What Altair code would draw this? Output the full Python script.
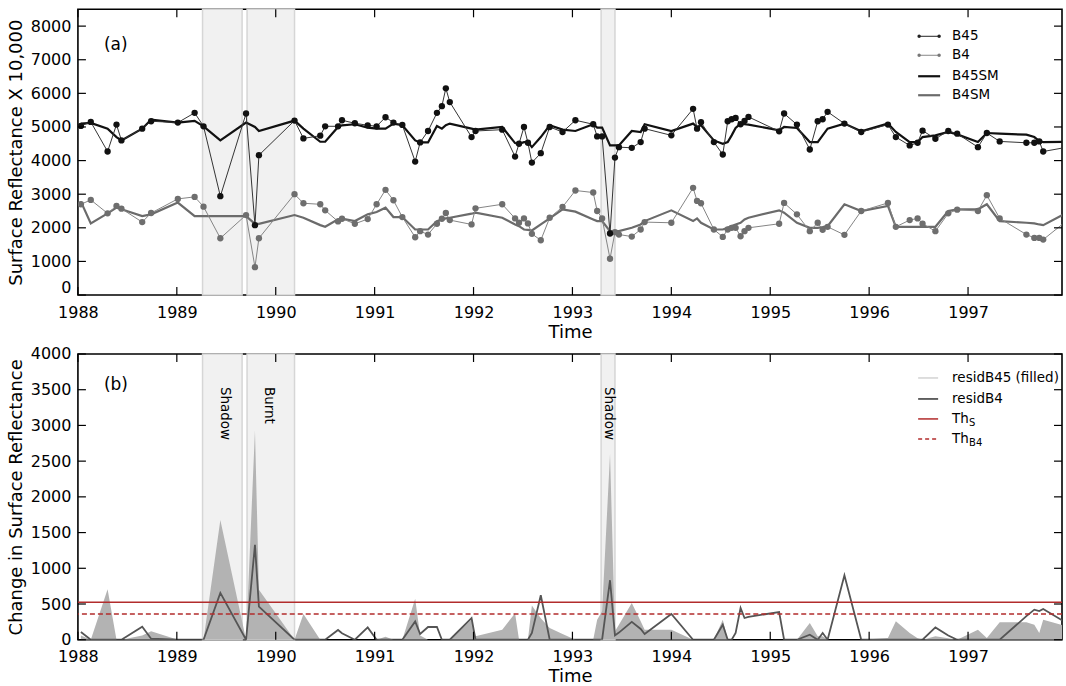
import altair as alt
import pandas as pd

# ---------------- data ----------------
dates = [
    1988.03, 1988.13, 1988.30, 1988.39, 1988.44, 1988.65, 1988.74, 1989.01, 1989.18, 1989.27,
    1989.44, 1989.70, 1989.79, 1989.83, 1990.19, 1990.28, 1990.45, 1990.50, 1990.63, 1990.67,
    1990.80, 1990.93, 1991.02, 1991.11, 1991.19, 1991.28, 1991.41, 1991.46, 1991.54, 1991.63,
    1991.68, 1991.72, 1991.76, 1991.98, 1992.02, 1992.29, 1992.42, 1992.46, 1992.51, 1992.55,
    1992.59, 1992.68, 1992.77, 1992.90, 1993.03, 1993.21, 1993.25, 1993.30, 1993.38, 1993.43,
    1993.47, 1993.60, 1993.69, 1993.73, 1994.00, 1994.22, 1994.26, 1994.30, 1994.43, 1994.52,
    1994.57, 1994.61, 1994.65, 1994.70, 1994.74, 1994.78, 1995.09, 1995.14, 1995.27, 1995.40,
    1995.48, 1995.53, 1995.58, 1995.75, 1995.92, 1996.19, 1996.27, 1996.41, 1996.49, 1996.54,
    1996.67, 1996.80, 1996.89, 1997.10, 1997.19, 1997.32, 1997.59, 1997.67, 1997.72, 1997.76,
    1998.10,
]
b45 = [
    5030, 5150, 4270, 5070, 4600, 4950, 5170, 5130, 5420, 5020,
    2940, 5400, 2080, 4160, 5190, 4660, 4740, 5020, 5020, 5200,
    5110, 5050, 5020, 5290, 5130, 5060, 3970, 4540, 4880, 5420,
    5620, 6150, 5740, 4700, 4880, 4920, 4120, 4500, 5000, 4530,
    3940, 4220, 5000, 4850, 5200, 5080, 4720, 4720, 1830, 4090,
    4400, 4380, 4550, 4950, 4750, 5540, 4950, 5140, 4550, 4180,
    5170, 5230, 5270, 5080, 5180, 5300, 4870, 5400, 5070, 4330,
    5170, 5230, 5450, 5100, 4850, 5070, 4700, 4450, 4530, 4890,
    4650, 4880, 4800, 4400, 4820, 4570, 4530, 4530, 4570, 4270,
    4450,
]
b4 = [
    2700, 2830, 2430, 2650, 2570, 2170, 2440, 2860, 2920, 2630,
    1690, 2380, 830, 1690, 3000, 2730, 2700, 2520, 2190, 2270,
    2120, 2260, 2700, 3130, 2820, 2320, 1720, 1900, 1800, 2120,
    2270, 2440, 2230, 2100, 2580, 2700, 2280, 2150, 2280, 2130,
    1820, 1630, 2300, 2620, 3110, 3050, 2500, 2280, 1080, 1870,
    1800, 1740, 1950, 2170, 2150, 3190, 2800, 2730, 1950, 1730,
    1950, 2000, 2000, 1750, 1900, 2000, 2120, 2740, 2400, 1900,
    2150, 1940, 2030, 1790, 2500, 2740, 2030, 2230, 2280, 2120,
    1900, 2430, 2540, 2500, 2970, 2280, 1800, 1700, 1700, 1650,
    2450,
]
b45sm = [
    5100, 5120, 4950, 4700, 4600, 4950, 5220, 5130, 5180, 5020,
    4600, 5130, 5000, 4880, 5190, 4950, 4560, 4560, 5000, 5050,
    5080, 4980, 4950, 4950, 5100, 5050, 4600, 4540, 4540, 5030,
    4950, 5050, 5100, 4950, 4920, 5000, 4520, 4500, 4550, 4550,
    4400, 4700, 5050, 4920, 4880, 5080, 4980, 4980, 4450, 4450,
    4450, 4880, 4850, 5080, 4880, 5100, 5000, 5050, 4600, 4500,
    4550, 4750, 4970, 5100, 5080, 5070, 4900, 5000, 4970, 4550,
    4550, 4750, 4950, 5100, 4870, 5100, 4850, 4550, 4550, 4700,
    4750, 4850, 4780, 4550, 4820, 4800, 4770, 4700, 4580, 4550,
    4560,
]
b4sm = [
    2780, 2130, 2430, 2600, 2550, 2350, 2400, 2750, 2350, 2350,
    2350, 2350, 2120, 2120, 2380, 2300, 2080, 2030, 2250, 2270,
    2200, 2400, 2470, 2600, 2320, 2320, 1950, 1950, 1950, 2200,
    2250, 2280, 2300, 2420, 2450, 2300, 2100, 2050, 1950, 1940,
    1920, 2100, 2280, 2550, 2480, 2250, 2200, 2200, 1900, 1900,
    1900, 2000, 2100, 2200, 2520, 2200, 2280, 2150, 1950, 1950,
    2000, 2050, 2100, 2150, 2250, 2300, 2520, 2450, 2150, 2000,
    2000, 2020, 2050, 2700, 2500, 2650, 2030, 2030, 2030, 2030,
    2030, 2500, 2550, 2550, 2700, 2200, 2150, 2130, 2100, 2080,
    2600,
]
resid_b45 = [
    60, 0, 705, 0, 0, 60, 117, 0, 0, 0,
    1675, 0, 2930, 700, 0, 360, 0, 0, 0, 0,
    0, 0, 0, 40, 0, 0, 575, 60, 0, 0,
    0, 0, 0, 280, 47, 140, 370, 0, 0, 0,
    480, 300, 164, 80, 0, 0, 280, 400, 2600, 117,
    210, 515, 257, 140, 140, 0, 0, 0, 0, 280,
    0, 0, 0, 0, 0, 0, 0, 0, 0, 234,
    47, 47, 0, 0, 0, 23, 257, 94, 20, 0,
    47, 20, 0, 140, 23, 243, 243, 210, 94, 280,
    150,
]
resid_b4 = [
    108, 0, 0, 0, 0, 183, 14, 0, 0, 0,
    655, 0, 1330, 463, 0, 0, 0, 0, 136, 90,
    0, 173, 0, 0, 0, 0, 257, 80, 178, 178,
    0, 0, 0, 304, 0, 0, 0, 0, 0, 0,
    94, 622, 0, 0, 0, 0, 0, 0, 833, 60,
    100, 250, 150, 80, 360, 0, 0, 0, 0, 210,
    0, 0, 94, 445, 304, 320, 388, 0, 0, 70,
    0, 94, 0, 903, 0, 0, 0, 0, 0, 0,
    173, 60, 0, 0, 0, 0, 330, 421, 400, 430,
    150,
]

shade_start = [1989.26, 1989.71, 1993.29]
shade_end = [1989.66, 1990.19, 1993.43]
ann_x = [1989.485, 1989.93, 1993.37]
ann_text = ["Shadow", "Burnt", "Shadow"]
th_s = [525]
th_b4 = [360]

year_ticks = list(range(1988, 1998))
top_ticks = list(range(0, 9000, 1000))
bot_ticks = list(range(0, 4500, 500))

# ---------------- frames ----------------
main = pd.DataFrame({
    "date": dates, "b45": b45, "b4": b4, "b45sm": b45sm, "b4sm": b4sm,
    "rb45": resid_b45, "rb4": resid_b4,
})
shade = pd.DataFrame({"start": shade_start, "end": shade_end})
ann = pd.DataFrame({"x": ann_x, "label": ann_text})
xt = pd.DataFrame({"t": year_ticks})
ytt = pd.DataFrame({"v": top_ticks})
ytb = pd.DataFrame({"v": bot_ticks})
ths = pd.DataFrame({"v": th_s})
thb = pd.DataFrame({"v": th_b4})
one = pd.DataFrame({"k": [0]})

W, H = 985, 286
FONT = "DejaVu Sans"
LFONT = "DejaVu Sans"

XS = alt.Scale(domain=[1988, 1997.95], nice=False, zero=False)
YT = alt.Scale(domain=[0, 8500], nice=False, zero=False)
YB = alt.Scale(domain=[0, 4000], nice=False, zero=False)

XA = alt.Axis(values=year_ticks, format="d", tickSize=0, domain=False, grid=False,
              labelFont=FONT, labelFontSize=16, labelColor="black", labelPadding=9,
              title="Time", titleFont=FONT, titleFontSize=18, titleFontWeight="normal",
              titleColor="black", titlePadding=3, labelFlush=False)


def y_axis(title, values, flush):
    return alt.Axis(values=values, format="d", tickSize=0, domain=False, grid=False,
                    labelFont=FONT, labelFontSize=16, labelColor="black", labelPadding=7,
                    title=title, titleFont=FONT, titleFontSize=18, titleFontWeight="normal",
                    titleColor="black", titlePadding=5, labelFlush=flush)


YTA = y_axis("Surface Reflectance X 10,000", top_ticks, True)
YBA = y_axis("Change in Surface Reflectance", bot_ticks, False)


def ticks(yscale, yaxis, ydf):
    xb = alt.Chart(xt).mark_rule(color="black", strokeWidth=1.2).encode(
        x=alt.X("t:Q", scale=XS, axis=XA), y=alt.value(H), y2=alt.value(H - 8))
    xtp = alt.Chart(xt).mark_rule(color="black", strokeWidth=1.2).encode(
        x=alt.X("t:Q", scale=XS, axis=XA), y=alt.value(0), y2=alt.value(8))
    yl = alt.Chart(ydf).mark_rule(color="black", strokeWidth=1.2).encode(
        y=alt.Y("v:Q", scale=yscale, axis=yaxis), x=alt.value(0), x2=alt.value(8))
    yr = alt.Chart(ydf).mark_rule(color="black", strokeWidth=1.2).encode(
        y=alt.Y("v:Q", scale=yscale, axis=yaxis), x=alt.value(W - 8), x2=alt.value(W))
    return [xb, xtp, yl, yr]


def shade_layer():
    return alt.Chart(shade).mark_rect(fill="#f1f1f1", stroke="#d6d6d6", strokeWidth=1.5).encode(
        x=alt.X("start:Q", scale=XS, axis=XA), x2="end:Q")


def leg_line(y, color, width, dash=None, x1=841, x2=863):
    kw = dict(color=color, strokeWidth=width)
    if dash:
        kw["strokeDash"] = dash
    return alt.Chart(one).mark_rule(**kw).encode(
        x=alt.value(x1), x2=alt.value(x2), y=alt.value(y))


def leg_dot(x, y, color):
    return alt.Chart(one).mark_circle(color=color, size=12, opacity=1).encode(
        x=alt.value(x), y=alt.value(y))


def leg_text(x, y, text, size=13.5):
    return alt.Chart(one).mark_text(text=text, align="left", baseline="middle", font=LFONT,
                                    fontSize=size, color="black").encode(
        x=alt.value(x), y=alt.value(y))


# ---------------- top panel ----------------
base = alt.Chart(main)


def tx():
    return alt.X("date:Q", scale=XS, axis=XA)


def ty(field):
    return alt.Y(field + ":Q", scale=YT, axis=YTA)


b4sm_line = base.mark_line(color="#6b6b6b", strokeWidth=2.2, clip=True).encode(x=tx(), y=ty("b4sm"))
b4_line = base.mark_line(color="#858585", strokeWidth=1, clip=True).encode(x=tx(), y=ty("b4"))
b4_pts = base.mark_circle(color="#6e6e6e", size=40, opacity=1, clip=True).encode(x=tx(), y=ty("b4"))
b45sm_line = base.mark_line(color="#111111", strokeWidth=2.2, clip=True).encode(x=tx(), y=ty("b45sm"))
b45_line = base.mark_line(color="#333333", strokeWidth=1, clip=True).encode(x=tx(), y=ty("b45"))
b45_pts = base.mark_circle(color="#111111", size=40, opacity=1, clip=True).encode(x=tx(), y=ty("b45"))

label_a = leg_text(26, 36, "(a)", size=17)

top_legend = [
    leg_line(27, "#222222", 1), leg_dot(842, 27, "#222222"), leg_dot(862, 27, "#222222"),
    leg_text(875, 27, "B45"),
    leg_line(46, "#888888", 1), leg_dot(842, 46, "#777777"), leg_dot(862, 46, "#777777"),
    leg_text(875, 46, "B4"),
    leg_line(67, "#111111", 2.2), leg_text(875, 67, "B45SM"),
    leg_line(86, "#6b6b6b", 2.2), leg_text(875, 86, "B4SM"),
]

top = alt.layer(
    shade_layer(), b4sm_line, b4_line, b4_pts, b45sm_line, b45_line, b45_pts,
    *ticks(YT, YTA, ytt), label_a, *top_legend,
).properties(width=W, height=H)

# ---------------- bottom panel ----------------


def by(field):
    return alt.Y(field + ":Q", scale=YB, axis=YBA)


area = base.mark_area(color="#b3b3b3", opacity=1, clip=True).encode(x=tx(), y=by("rb45"))
rb4_line = base.mark_line(color="#555555", strokeWidth=1.8, clip=True).encode(x=tx(), y=by("rb4"))
rule_s = alt.Chart(ths).mark_rule(color="#b22c2c", strokeWidth=1.5).encode(y=by("v"))
rule_b4 = alt.Chart(thb).mark_rule(color="#b22c2c", strokeWidth=1.5, strokeDash=[5, 3]).encode(y=by("v"))
ann_text_layer = alt.Chart(ann).mark_text(angle=90, align="left", baseline="middle", font=LFONT,
                                          fontSize=13.5, color="black").encode(
    x=alt.X("x:Q", scale=XS, axis=XA), y=alt.value(33), text="label:N")
label_b = leg_text(26, 31, "(b)", size=17)

bot_legend = [
    leg_line(24, "#d2d2d2", 1.5, x2=861), leg_text(875, 24, "residB45 (filled)"),
    leg_line(45, "#555555", 1.8, x2=861), leg_text(875, 45, "residB4"),
    leg_line(65, "#b22c2c", 1.5, x2=861), leg_text(875, 65, "Th"), leg_text(892, 69, "S", size=10),
    leg_line(85, "#b22c2c", 1.5, dash=[4, 3], x2=861), leg_text(875, 85, "Th"),
    leg_text(892, 89, "B4", size=10),
]

bottom = alt.layer(
    shade_layer(), area, rb4_line, rule_s, rule_b4, *ticks(YB, YBA, ytb),
    ann_text_layer, label_b, *bot_legend,
).properties(width=W, height=H)

chart = alt.vconcat(top, bottom, spacing=59, bounds="flush").properties(
    padding={"left": 6, "top": 7, "right": 2, "bottom": 0}
).configure_view(stroke="black", strokeWidth=1.6)

chart.save("out.html", embed_options={"renderer": "svg", "actions": False})
